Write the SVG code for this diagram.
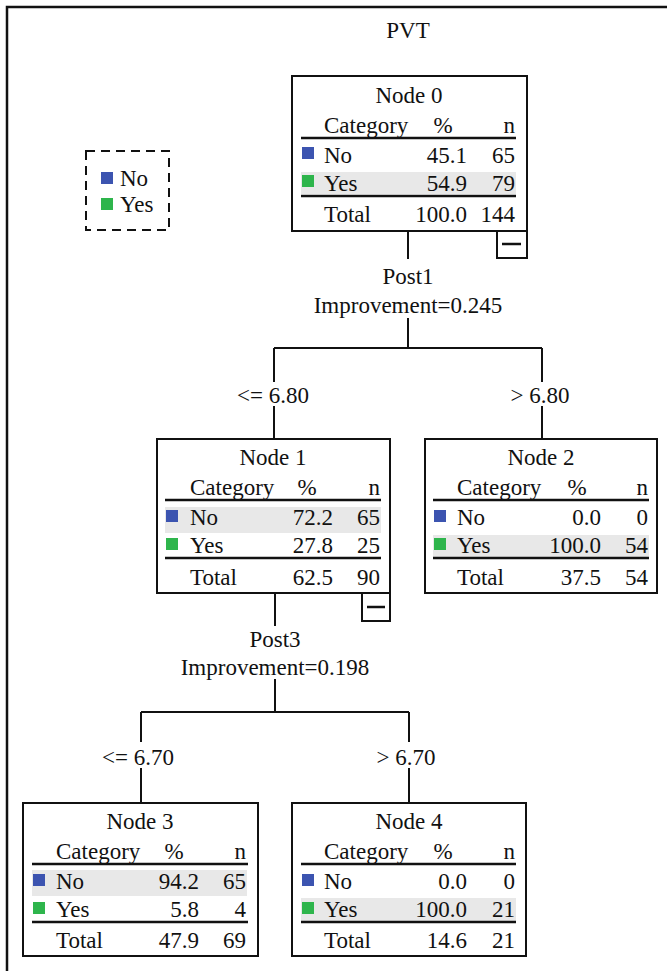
<svg xmlns="http://www.w3.org/2000/svg" width="667" height="971" viewBox="0 0 667 971">
<style>
text{font-family:"Liberation Serif","Times New Roman",serif;font-size:23px;fill:#111}
.m{text-anchor:middle}.e{text-anchor:end}
.box{fill:#fff;stroke:#111;stroke-width:2}
.ln{stroke:#111;stroke-width:2.5;fill:none}
.cn{stroke:#111;stroke-width:2;fill:none}
.band{fill:#e8e8e8}
.no{fill:#3c54b0}.yes{fill:#2eb54c}
</style>
<path d="M7,971 V7 H667" class="ln"/>
<text x="408" y="38" class="m">PVT</text>
<g id="legend">
<rect x="86" y="151" width="83" height="79" fill="none" stroke="#111" stroke-width="2" stroke-dasharray="9,6"/>
<rect x="101" y="172" width="12" height="12" class="no"/>
<text x="120" y="186">No</text>
<rect x="101" y="198" width="12" height="12" class="yes"/>
<text x="120" y="212">Yes</text>
</g>
<g id="connectors">
<path class="cn" d="M408,231 V259 M408,318 V348 M274,348 H542 M274,348 V382 M274,406 V439 M542,348 V382 M542,406 V439"/>
<path class="cn" d="M275,593 V626 M275,679 V712 M141,712 H409 M141,712 V742 M141,768 V803 M409,712 V742 M409,768 V803"/>
<text x="408" y="284" class="m">Post1</text>
<text x="408" y="313" class="m">Improvement=0.245</text>
<text x="273" y="403" class="m">&lt;= 6.80</text>
<text x="540" y="403" class="m">&gt; 6.80</text>
<text x="275" y="647" class="m">Post3</text>
<text x="275" y="675" class="m">Improvement=0.198</text>
<text x="138" y="765" class="m">&lt;= 6.70</text>
<text x="406" y="765" class="m">&gt; 6.70</text>
</g>
<g id="node0">
<rect x="292" y="76" width="235" height="155" class="box"/>
<rect x="301" y="172" width="215" height="22" class="band"/>
<text x="409" y="103" class="m">Node 0</text>
<text x="324" y="133">Category</text><text x="443" y="133" class="m">%</text><text x="515" y="133" class="e">n</text>
<line x1="301" y1="138" x2="516" y2="138" class="ln"/>
<rect x="302" y="147" width="12" height="12" class="no"/>
<text x="324" y="163">No</text><text x="467" y="163" class="e">45.1</text><text x="515" y="163" class="e">65</text>
<rect x="302" y="175" width="12" height="12" class="yes"/>
<text x="324" y="191">Yes</text><text x="467" y="191" class="e">54.9</text><text x="515" y="191" class="e">79</text>
<line x1="301" y1="196" x2="516" y2="196" class="ln"/>
<text x="324" y="222">Total</text><text x="467" y="222" class="e">100.0</text><text x="515" y="222" class="e">144</text>
<rect x="497" y="231" width="30" height="27" class="box"/>
<line x1="502" y1="244" x2="521" y2="244" class="ln"/>
</g>
<g id="node1">
<rect x="157" y="439" width="233" height="154" class="box"/>
<rect x="165" y="507" width="216" height="26" class="band"/>
<text x="273" y="465" class="m">Node 1</text>
<text x="190" y="495">Category</text><text x="307" y="495" class="m">%</text><text x="380" y="495" class="e">n</text>
<line x1="165" y1="500" x2="381" y2="500" class="ln"/>
<rect x="166" y="510" width="12" height="12" class="no"/>
<text x="190" y="525">No</text><text x="333" y="525" class="e">72.2</text><text x="380" y="525" class="e">65</text>
<rect x="166" y="538" width="12" height="12" class="yes"/>
<text x="190" y="553">Yes</text><text x="333" y="553" class="e">27.8</text><text x="380" y="553" class="e">25</text>
<line x1="165" y1="558" x2="381" y2="558" class="ln"/>
<text x="190" y="585">Total</text><text x="333" y="585" class="e">62.5</text><text x="380" y="585" class="e">90</text>
<rect x="362" y="593" width="28" height="28" class="box"/>
<line x1="367" y1="607" x2="385" y2="607" class="ln"/>
</g>
<g id="node2">
<rect x="425" y="439" width="232" height="154" class="box"/>
<rect x="433" y="535" width="216" height="23" class="band"/>
<text x="541" y="465" class="m">Node 2</text>
<text x="457" y="495">Category</text><text x="577" y="495" class="m">%</text><text x="648" y="495" class="e">n</text>
<line x1="433" y1="500" x2="649" y2="500" class="ln"/>
<rect x="434" y="510" width="12" height="12" class="no"/>
<text x="457" y="525">No</text><text x="601" y="525" class="e">0.0</text><text x="648" y="525" class="e">0</text>
<rect x="434" y="538" width="12" height="12" class="yes"/>
<text x="457" y="553">Yes</text><text x="601" y="553" class="e">100.0</text><text x="648" y="553" class="e">54</text>
<line x1="433" y1="558" x2="649" y2="558" class="ln"/>
<text x="457" y="585">Total</text><text x="601" y="585" class="e">37.5</text><text x="648" y="585" class="e">54</text>
</g>
<g id="node3">
<rect x="23" y="803" width="235" height="153" class="box"/>
<rect x="32" y="870" width="215" height="26" class="band"/>
<text x="140" y="829" class="m">Node 3</text>
<text x="56" y="859">Category</text><text x="174" y="859" class="m">%</text><text x="246" y="859" class="e">n</text>
<line x1="32" y1="864" x2="248" y2="864" class="ln"/>
<rect x="33" y="874" width="12" height="12" class="no"/>
<text x="56" y="889">No</text><text x="199" y="889" class="e">94.2</text><text x="246" y="889" class="e">65</text>
<rect x="33" y="902" width="12" height="12" class="yes"/>
<text x="56" y="917">Yes</text><text x="199" y="917" class="e">5.8</text><text x="246" y="917" class="e">4</text>
<line x1="32" y1="922" x2="248" y2="922" class="ln"/>
<text x="56" y="948">Total</text><text x="199" y="948" class="e">47.9</text><text x="246" y="948" class="e">69</text>
</g>
<g id="node4">
<rect x="292" y="803" width="234" height="153" class="box"/>
<rect x="301" y="898" width="215" height="23" class="band"/>
<text x="409" y="829" class="m">Node 4</text>
<text x="324" y="859">Category</text><text x="443" y="859" class="m">%</text><text x="515" y="859" class="e">n</text>
<line x1="301" y1="864" x2="516" y2="864" class="ln"/>
<rect x="302" y="874" width="12" height="12" class="no"/>
<text x="324" y="889">No</text><text x="467" y="889" class="e">0.0</text><text x="515" y="889" class="e">0</text>
<rect x="302" y="902" width="12" height="12" class="yes"/>
<text x="324" y="917">Yes</text><text x="467" y="917" class="e">100.0</text><text x="515" y="917" class="e">21</text>
<line x1="301" y1="922" x2="516" y2="922" class="ln"/>
<text x="324" y="948">Total</text><text x="467" y="948" class="e">14.6</text><text x="515" y="948" class="e">21</text>
</g>
</svg>
